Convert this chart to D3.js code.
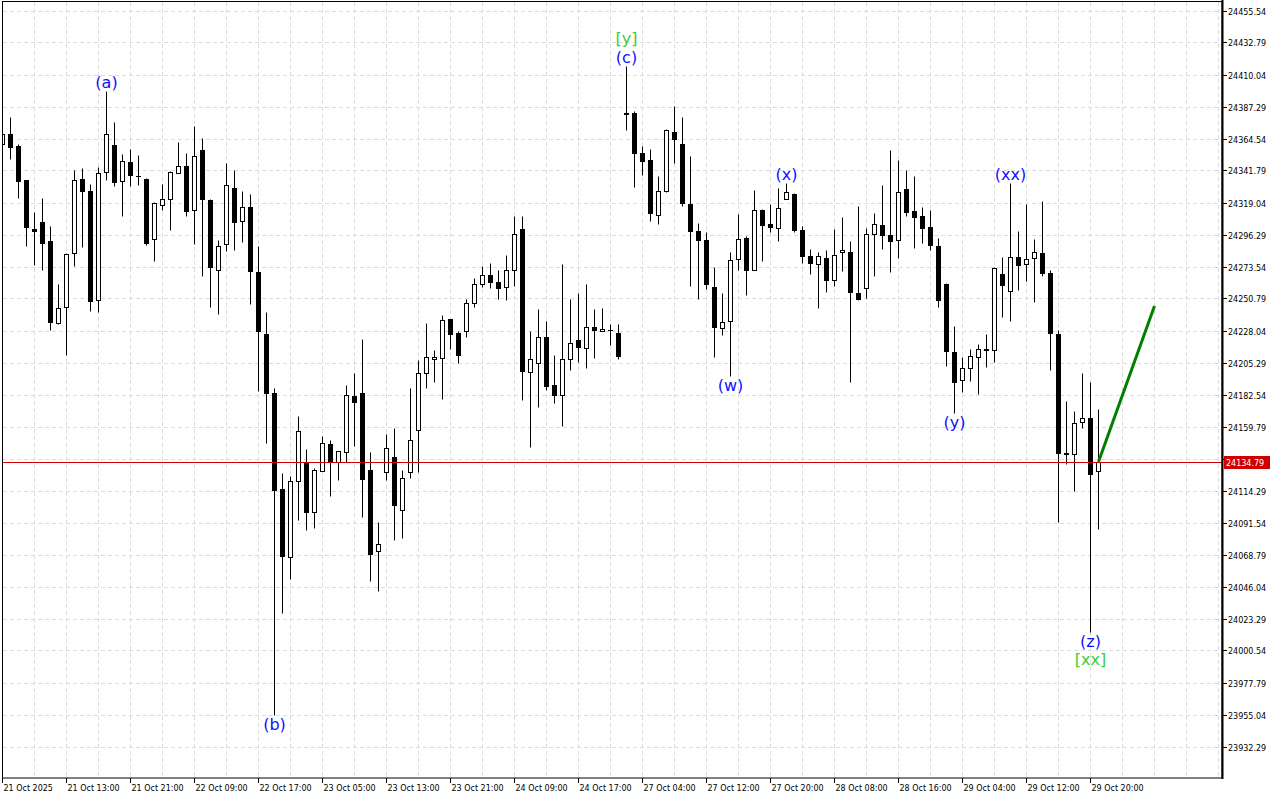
<!DOCTYPE html>
<html>
<head>
<meta charset="utf-8">
<script src="https://cdn.jsdelivr.net/npm/d3@7"></script>
<style>
  html, body { margin: 0; padding: 0; background: #fff; }
  svg { display: block; }
  text { font-family: "DejaVu Sans", sans-serif; }
</style>
</head>
<body>
<svg id="chart"></svg>
<script>
// hourly bars
const opens = [24360.8,24367.9,24359.4,24335.2,24300.4,24305.1,24291.6,24233.3,24244.4,24283.1,
  24335.9,24327.4,24249.4,24340.7,24360.1,24334.5,24348.0,24338.1,24335.9,24293.1,
  24317.0,24321.5,24340.0,24345.0,24313.9,24356.2,24321.0,24271.1,24289.6,24329.5,
  24306.0,24316.0,24269.5,24225.9,24183.9,24115.1,24066.7,24120.7,24133.8,24098.7,
  24128.5,24147.3,24134.9,24141.6,24181.6,24183.8,24129.0,24071.2,24127.6,24138.1,
  24100.6,24127.6,24157.3,24197.8,24207.7,24208.5,24236.2,24226.2,24227.6,24247.6,
  24261.1,24267.7,24262.7,24258.9,24271.0,24300.2,24198.5,24204.9,24223.4,24189.3,
  24182.1,24207.7,24221.2,24215.3,24230.5,24227.4,24228.6,24226.2,24382.9,24382.6,
  24353.9,24349.4,24310.1,24326.9,24369.1,24360.8,24318.2,24299.0,24292.4,24258.9,
  24229.8,24234.8,24278.8,24294.0,24271.4,24313.9,24303.7,24300.9,24321.5,24325.3,
  24299.7,24281.0,24275.3,24279.8,24263.9,24283.8,24283.8,24254.7,24258.2,24297.0,
  24303.0,24295.9,24292.4,24328.6,24313.2,24309.4,24301.6,24288.3,24261.3,24213.1,
  24192.8,24201.3,24209.2,24214.6,24213.9,24268.4,24256.1,24280.3,24275.3,24279.6,
  24282.8,24268.9,24225.7,24140.9,24140.2,24162.9,24165.8,24128.1];
const highs = [24372.2,24379.5,24360.8,24335.2,24312.3,24322.4,24302.5,24261.3,24283.3,24342.3,
  24343.5,24332.2,24344.0,24398.5,24376.5,24353.5,24357.3,24353.0,24336.5,24319.6,
  24332.4,24341.6,24362.0,24354.4,24373.3,24365.0,24321.6,24292.1,24347.0,24342.0,
  24327.1,24324.8,24288.0,24241.4,24187.1,24126.8,24124.8,24167.2,24144.0,24130.5,
  24153.2,24150.4,24142.3,24189.5,24197.8,24222.0,24141.6,24092.1,24154.6,24158.7,
  24129.0,24187.1,24207.2,24233.3,24214.4,24239.0,24236.5,24227.4,24250.4,24265.3,
  24273.6,24276.2,24271.2,24281.9,24309.6,24309.6,24227.9,24243.5,24235.0,24210.8,
  24275.5,24250.6,24254.7,24261.1,24243.5,24244.2,24232.6,24232.6,24415.8,24383.8,
  24359.4,24357.1,24338.1,24371.3,24387.8,24380.0,24352.3,24304.4,24298.0,24273.2,
  24254.7,24283.8,24310.8,24295.4,24328.1,24314.4,24318.2,24329.3,24332.9,24325.8,
  24302.5,24286.2,24284.0,24285.5,24300.2,24308.7,24291.9,24316.7,24300.9,24311.8,
  24331.7,24356.6,24349.4,24342.3,24338.1,24315.8,24313.9,24293.8,24261.8,24230.9,
  24208.9,24215.1,24218.6,24225.7,24272.9,24280.3,24332.9,24299.0,24318.2,24293.3,
  24320.3,24271.2,24228.6,24178.1,24171.0,24197.8,24191.6,24172.2];
const lows = [24356.6,24350.1,24321.9,24287.8,24274.8,24270.7,24228.1,24232.6,24210.8,24273.6,
  24287.1,24242.1,24240.9,24334.7,24330.5,24309.6,24330.5,24331.7,24288.5,24277.1,
  24313.9,24299.2,24340.0,24309.6,24289.4,24266.7,24244.8,24239.8,24284.7,24285.2,
  24290.8,24246.7,24184.9,24147.8,23954.4,24027.0,24051.3,24093.5,24085.9,24087.3,
  24128.1,24110.1,24122.1,24134.9,24145.6,24095.8,24050.3,24042.5,24121.9,24079.3,
  24080.7,24123.3,24127.6,24187.1,24191.1,24179.0,24214.9,24204.9,24223.1,24244.7,
  24258.9,24258.2,24250.4,24249.4,24259.4,24178.3,24144.9,24174.0,24185.4,24176.2,
  24159.8,24200.1,24205.8,24201.6,24208.5,24227.4,24217.9,24207.7,24370.8,24329.8,
  24338.3,24305.6,24303.4,24326.5,24347.1,24316.7,24259.4,24250.4,24257.5,24208.9,
  24224.5,24195.4,24270.7,24253.0,24271.2,24277.1,24297.8,24291.4,24321.5,24297.8,
  24275.7,24267.9,24243.7,24255.1,24259.4,24270.0,24191.1,24249.5,24250.8,24266.5,
  24285.7,24269.3,24279.3,24309.1,24286.4,24289.9,24285.0,24245.1,24202.5,24169.3,
  24184.0,24191.8,24182.9,24201.8,24205.6,24237.3,24234.5,24256.5,24263.2,24248.0,
  24266.5,24200.1,24091.6,24133.1,24113.6,24158.7,24013.9,24086.9];
const closes = [24367.9,24358.2,24334.0,24301.3,24298.5,24290.6,24233.8,24243.7,24282.4,24335.2,
  24326.9,24248.7,24340.0,24367.7,24333.3,24348.7,24338.3,24337.6,24290.6,24318.7,
  24321.7,24340.9,24345.0,24312.7,24352.3,24321.6,24273.1,24288.3,24331.8,24305.2,
  24315.5,24270.3,24227.4,24183.9,24114.3,24068.0,24120.7,24156.6,24098.7,24128.8,
  24148.0,24134.9,24142.3,24182.1,24176.9,24122.8,24069.5,24076.2,24144.5,24104.1,
  24123.3,24150.2,24197.8,24209.2,24209.2,24235.5,24225.2,24210.3,24247.6,24261.1,
  24267.5,24262.2,24258.6,24271.0,24296.6,24199.6,24207.5,24223.4,24188.3,24182.1,
  24207.5,24219.1,24216.0,24230.5,24228.1,24229.1,24228.2,24209.6,24381.9,24353.9,
  24348.2,24311.3,24326.9,24370.6,24363.9,24318.4,24298.5,24292.1,24260.8,24230.2,
  24234.3,24278.1,24293.1,24270.7,24313.7,24303.0,24301.6,24315.1,24326.5,24299.2,
  24280.7,24275.7,24281.0,24263.9,24281.7,24285.5,24255.4,24250.1,24296.6,24303.7,
  24295.6,24291.6,24326.5,24312.0,24308.4,24300.6,24288.8,24249.4,24213.4,24191.4,
  24201.1,24209.6,24214.9,24213.9,24272.4,24260.1,24280.3,24274.3,24278.8,24283.8,
  24268.6,24226.2,24141.3,24140.4,24162.2,24165.8,24126.0,24134.79];

const priceTicks = [24455.54,24432.79,24410.04,24387.29,24364.54,24341.79,24319.04,24296.29,
  24273.54,24250.79,24228.04,24205.29,24182.54,24159.79,24137.04,24114.29,24091.54,
  24068.79,24046.04,24023.29,24000.54,23977.79,23955.04,23932.29];

const timeLabels = ["21 Oct 2025","21 Oct 13:00","21 Oct 21:00","22 Oct 09:00","22 Oct 17:00",
  "23 Oct 05:00","23 Oct 13:00","23 Oct 21:00","24 Oct 09:00","24 Oct 17:00","27 Oct 04:00",
  "27 Oct 12:00","27 Oct 20:00","28 Oct 08:00","28 Oct 16:00","29 Oct 04:00","29 Oct 12:00",
  "29 Oct 20:00"];
const timeLabelBars = [0,8,16,24,32,40,48,56,64,72,80,88,96,104,112,120,128,136];

const lastPrice = 24134.79;

// wave marks: bar, text, above/below, degree (0 = minor, 1 = higher)
const waveBars   = [13, 34, 78, 78, 91, 98, 119, 126, 136, 136];
const waveTexts  = ["(a)", "(b)", "(c)", "[y]", "(w)", "(x)", "(y)", "(xx)", "(z)", "[xx]"];
const waveSide   = ["up", "down", "up", "up", "down", "up", "down", "up", "down", "down"];
const waveDegree = [0, 0, 0, 1, 0, 0, 0, 0, 0, 1];

// forecast segment
const projBars = [137, 144];
const projPrices = [24134.79, 24245.5];

const width = 1280, height = 800;
const plotLeft = 3, plotRight = 1222, plotTop = 2, plotBottom = 778;

let svg = d3.select("#chart")
    .attr("width", width)
    .attr("height", height);

const x = d3.scaleLinear().domain([0, 1]).range([2.5, 10.5]);
const y = d3.scaleLinear().domain([23932.29, 24455.54]).range([746.5, 10.5]);
const py = v => Math.round(y(v)) + 0.5;

svg.append("defs").append("clipPath").attr("id", "plot-clip")
  .append("rect")
    .attr("x", plotLeft).attr("y", plotTop)
    .attr("width", plotRight - plotLeft).attr("height", plotBottom - plotTop);

// grid
const grid = svg.append("g")
    .attr("stroke", "#dcdcdc")
    .attr("stroke-dasharray", "4,3");

grid.selectAll("line.h")
  .data(priceTicks)
  .enter().append("line")
    .attr("x1", plotLeft).attr("x2", plotRight)
    .attr("y1", d => py(d)).attr("y2", d => py(d));

grid.selectAll("line.v")
  .data(d3.range(4, 153, 4))
  .enter().append("line")
    .attr("x1", d => x(d)).attr("x2", d => x(d))
    .attr("y1", plotTop).attr("y2", plotBottom);

const candles = opens.map((o, i) => ({i: i, o: o, h: highs[i], l: lows[i], c: closes[i]}));
const plot = svg.append("g").attr("clip-path", "url(#plot-clip)");

plot.selectAll("line.wick")
  .data(candles)
  .enter().append("line")
    .attr("x1", d => x(d.i)).attr("x2", d => x(d.i))
    .attr("y1", d => py(d.h)).attr("y2", d => py(d.l))
    .attr("stroke", "#000");

plot.selectAll("rect.body")
  .data(candles.filter(d => Math.abs(py(d.o) - py(d.c)) >= 1))
  .enter().append("rect")
    .attr("x", d => x(d.i) - 2)
    .attr("y", d => Math.min(py(d.o), py(d.c)))
    .attr("width", 4)
    .attr("height", d => Math.abs(py(d.o) - py(d.c)))
    .attr("fill", d => d.c > d.o ? "#fff" : "#000")
    .attr("stroke", "#000");

plot.selectAll("line.doji")
  .data(candles.filter(d => Math.abs(py(d.o) - py(d.c)) < 1))
  .enter().append("line")
    .attr("x1", d => x(d.i) - 2.5).attr("x2", d => x(d.i) + 2.5)
    .attr("y1", d => py(d.o)).attr("y2", d => py(d.o))
    .attr("stroke", "#000");

// current price line
plot.append("line")
    .attr("x1", plotLeft).attr("x2", plotRight)
    .attr("y1", py(lastPrice)).attr("y2", py(lastPrice))
    .attr("stroke", "#d00000");

// forecast
plot.append("path")
    .datum(projBars.map((b, k) => [x(b), y(projPrices[k])]))
    .attr("d", d3.line())
    .attr("fill", "none")
    .attr("stroke", "#008000")
    .attr("stroke-width", 3);

// wave labels
const waveColor = ["#1010ff", "#3ccc3c"];
svg.append("g")
  .selectAll("text")
  .data(waveTexts.map((t, k) => ({t: t, b: waveBars[k], s: waveSide[k], d: waveDegree[k]})))
  .enter().append("text")
    .attr("x", d => x(d.b))
    .attr("y", d => {
      let stack = d.d;
      if (d.s === "up") return y(highs[d.b]) - 3 - stack * 19;
      return y(lows[d.b]) + 15 + stack * 18;
    })
    .attr("text-anchor", "middle")
    .attr("font-size", "16px")
    .attr("fill", d => waveColor[d.d])
    .text(d => d.t);

// frame
svg.append("rect")
    .attr("x", 2.5).attr("y", 1.5)
    .attr("width", plotRight - 2.5).attr("height", plotBottom - 1.5)
    .attr("fill", "none").attr("stroke", "#000");
svg.append("line")
    .attr("x1", plotRight + 0.5).attr("x2", plotRight + 0.5)
    .attr("y1", 0).attr("y2", plotBottom + 1)
    .attr("stroke", "#000").attr("stroke-width", 2);

// price axis
const yAxis = svg.append("g");
yAxis.selectAll("line")
  .data(priceTicks)
  .enter().append("line")
    .attr("x1", plotRight).attr("x2", plotRight + 5)
    .attr("y1", d => py(d)).attr("y2", d => py(d))
    .attr("stroke", "#000");
yAxis.selectAll("text")
  .data(priceTicks)
  .enter().append("text")
    .attr("x", plotRight + 6)
    .attr("y", d => py(d) + 3)
    .attr("font-size", "8px")
    .attr("fill", "#000")
    .text(d => d.toFixed(2));

// last price tag
svg.append("rect")
    .attr("x", plotRight + 2).attr("y", py(lastPrice) - 6.5)
    .attr("width", 46).attr("height", 13)
    .attr("fill", "#d00000");
svg.append("text")
    .attr("x", plotRight + 4).attr("y", py(lastPrice) + 3)
    .attr("font-size", "8px")
    .attr("fill", "#fff")
    .text(lastPrice.toFixed(2));

// time axis
const xAxis = svg.append("g");
xAxis.selectAll("line")
  .data(timeLabelBars)
  .enter().append("line")
    .attr("x1", d => x(d)).attr("x2", d => x(d))
    .attr("y1", plotBottom).attr("y2", plotBottom + 5)
    .attr("stroke", "#000");
xAxis.selectAll("text")
  .data(timeLabelBars)
  .enter().append("text")
    .attr("x", d => x(d) + 1)
    .attr("y", plotBottom + 13)
    .attr("font-size", "8px")
    .attr("fill", "#000")
    .text((d, k) => timeLabels[k]);
</script>
</body>
</html>
